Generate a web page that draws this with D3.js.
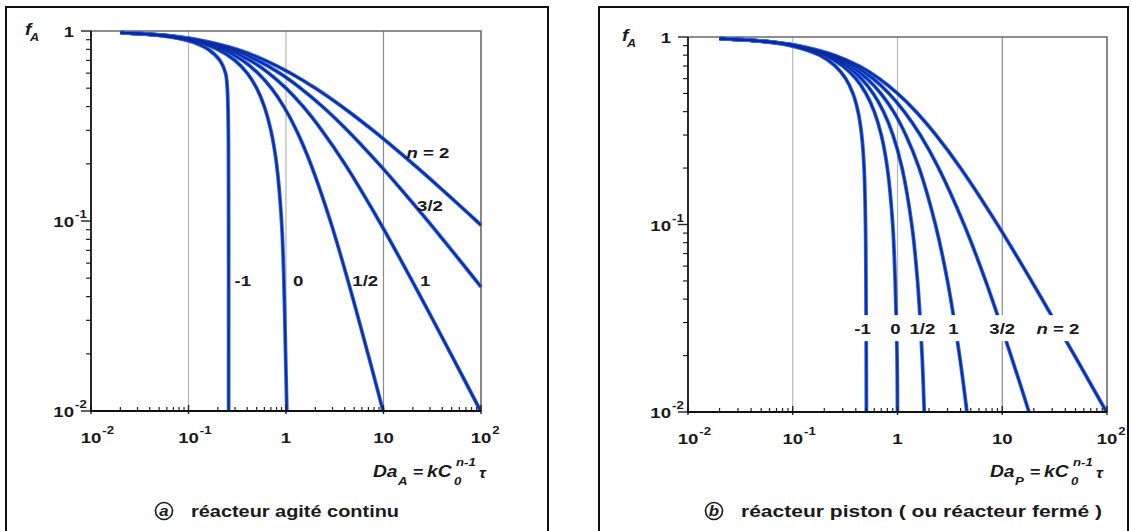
<!DOCTYPE html>
<html>
<head>
<meta charset="utf-8">
<script src="https://cdn.jsdelivr.net/npm/d3@7/dist/d3.min.js"></script>
<style>
body { margin: 0; background: #fff; }
svg { display: block; font-family: "Liberation Sans", Arial, sans-serif; font-weight: bold; }
</style>
</head>
<body>
<div id="chart"></div>
<script>
// points are [Da, fA]
var orderLabels = ["-1", "0", "1/2", "1", "3/2", "n = 2"];
var xTickValues = [0.01, 0.1, 1, 10, 100];
var xTickLabels = [["10", "-2"], ["10", "-1"], ["1", ""], ["10", ""], ["10", "2"]];
var yTickValues = [1, 0.1, 0.01];
var yTickLabels = [["1", ""], ["10", "-1"], ["10", "-2"]];

// (a) continuous stirred reactor
var cstrNm1 = [[0.02,0.98],[0.0475,0.95],[0.09,0.9],[0.1275,0.85],[0.16,0.8],[0.21,0.7],[0.24,0.6],[0.25,0.5],[0.254,0.4],[0.257,0.25],[0.258,0.1],[0.258,0.01]];
var cstrN0 = [[0.02,0.98],[0.05,0.95],[0.1,0.9],[0.2,0.8],[0.3,0.7],[0.4,0.6],[0.5,0.5],[0.6,0.4],[0.7,0.3],[0.8,0.2],[0.9,0.1],[0.95,0.05],[0.99,0.02],[1.02,0.01]];
var cstrNhalf = [[0.0202,0.98],[0.0513,0.95],[0.105,0.9],[0.224,0.8],[0.359,0.7],[0.516,0.6],[0.707,0.5],[0.949,0.4],[1.28,0.3],[1.79,0.2],[2.85,0.1],[4.25,0.05],[6.93,0.02],[9.9,0.01]];
var cstrN1 = [[0.0204,0.98],[0.0526,0.95],[0.111,0.9],[0.25,0.8],[0.429,0.7],[0.667,0.6],[1,0.5],[1.5,0.4],[2.33,0.3],[4,0.2],[9,0.1],[19,0.05],[49,0.02],[99,0.01]];
var cstrN3h = [[0.0206,0.98],[0.054,0.95],[0.117,0.9],[0.28,0.8],[0.512,0.7],[0.861,0.6],[1.41,0.5],[2.37,0.4],[4.26,0.3],[8.94,0.2],[14.6,0.15],[28.5,0.1],[50.2,0.07],[85,0.05],[100,0.045]];
var cstrN2 = [[0.0208,0.98],[0.0554,0.95],[0.123,0.9],[0.313,0.8],[0.612,0.7],[1.11,0.6],[2,0.5],[3.75,0.4],[7.78,0.3],[20,0.2],[37.8,0.15],[90,0.1],[100,0.095]];
var cstrLabelAt = [[0.36,0.049],[1.33,0.049],[6.5,0.049],[26.7,0.049],[30,0.122],[28.5,0.232]];

// (b) plug flow reactor
var pfrNm1 = [[0.0198,0.98],[0.0488,0.95],[0.095,0.9],[0.18,0.8],[0.255,0.7],[0.32,0.6],[0.375,0.5],[0.42,0.4],[0.455,0.3],[0.48,0.2],[0.495,0.1],[0.5,0.05],[0.505,0.01]];
var pfrN0 = [[0.02,0.98],[0.05,0.95],[0.1,0.9],[0.2,0.8],[0.3,0.7],[0.4,0.6],[0.5,0.5],[0.6,0.4],[0.7,0.3],[0.8,0.2],[0.9,0.1],[0.95,0.05],[0.99,0.02],[1.0,0.01]];
var pfrNhalf = [[0.0201,0.98],[0.0506,0.95],[0.103,0.9],[0.211,0.8],[0.327,0.7],[0.451,0.6],[0.586,0.5],[0.735,0.4],[0.905,0.3],[1.106,0.2],[1.368,0.1],[1.553,0.05],[1.717,0.02],[1.8,0.01]];
var pfrN1 = [[0.0202,0.98],[0.0513,0.95],[0.105,0.9],[0.223,0.8],[0.357,0.7],[0.511,0.6],[0.693,0.5],[0.916,0.4],[1.2,0.3],[1.61,0.2],[2.3,0.1],[3.0,0.05],[3.91,0.02],[4.6,0.01]];
var pfrN3h = [[0.0203,0.98],[0.052,0.95],[0.108,0.9],[0.236,0.8],[0.39,0.7],[0.582,0.6],[0.828,0.5],[1.16,0.4],[1.65,0.3],[2.47,0.2],[4.32,0.1],[6.94,0.05],[12.1,0.02],[18,0.01]];
var pfrN2 = [[0.0204,0.98],[0.0526,0.95],[0.111,0.9],[0.25,0.8],[0.429,0.7],[0.667,0.6],[1,0.5],[1.5,0.4],[2.33,0.3],[4,0.2],[9,0.1],[19,0.05],[49,0.02],[99,0.01]];
var pfrLabelAt = [[0.464,0.028],[0.957,0.028],[1.73,0.028],[3.41,0.028],[10,0.028],[34,0.028]];

var ink = "#1a1a1a";
var stretch = 1.2;   // the scan is a bit wider than tall, text looks stretched

var svg = d3.select("#chart").append("svg")
    .attr("width", 1131)
    .attr("height", 531);

// text helper, stretched horizontally around its anchor
function put(g, x, y, str, size, anchor, italic) {
    return g.append("text")
        .attr("transform", "translate(" + x + "," + y + ") scale(" + stretch + ",1)")
        .attr("font-size", size)
        .attr("text-anchor", anchor || "start")
        .attr("font-style", italic ? "italic" : null)
        .attr("fill", ink)
        .text(str);
}

LogPanel = function(_svg, _opts) {
    vis = this;
    this.svg = _svg;
    this.opts = _opts;
    this.frame = _opts.frame;
    this.margin = _opts.plot;
    this.initVis();
};

LogPanel.prototype.initVis = function() {
    vis = this;
    var m = vis.margin;

    vis.x = d3.scaleLog().domain([0.01, 100]).range([m.left, m.right]);
    vis.y = d3.scaleLog().domain([0.01, 1]).range([m.bottom, m.top]);

    vis.g = vis.svg.append("g");

    vis.g.append("rect")
        .attr("x", vis.frame[0]).attr("y", vis.frame[1])
        .attr("width", vis.frame[2]).attr("height", vis.frame[3])
        .attr("fill", "none").attr("stroke", "#111").attr("stroke-width", 2);

    vis.drawGrid();
    vis.drawCurves();
    vis.drawAxes();
    vis.drawTitles();
    vis.drawLabels();
};

LogPanel.prototype.drawGrid = function() {
    vis = this;
    var m = vis.margin;

    vis.g.selectAll(".vgrid")
        .data([0.1, 1, 10])
        .enter().append("line")
        .attr("class", "vgrid")
        .attr("x1", function(d) { return vis.x(d); })
        .attr("x2", function(d) { return vis.x(d); })
        .attr("y1", m.top).attr("y2", m.bottom)
        .attr("stroke", function(d) { return d == 10 ? "#8a8a8a" : "#b5b5b5"; })
        .attr("stroke-width", 1.2);

    // top and right edges of the plot box
    vis.g.append("path")
        .attr("d", "M" + m.left + "," + m.top + "H" + m.right + "V" + m.bottom)
        .attr("fill", "none").attr("stroke", "#6a6a6a").attr("stroke-width", 1.6);
};

LogPanel.prototype.drawCurves = function() {
    vis = this;

    var line = d3.line()
        .x(function(d) { return vis.x(d[0]); })
        .y(function(d) { return vis.y(d[1]); })
        .curve(d3.curveCatmullRom.alpha(0.5));

    var curves = vis.g.append("g");
    curves.selectAll(".halo")
        .data(vis.opts.curves)
        .enter().append("path")
        .attr("class", "halo")
        .attr("d", line)
        .attr("fill", "none").attr("stroke", "#2c64ea").attr("stroke-width", 3.8)
        .attr("stroke-linejoin", "round");
    curves.selectAll(".core")
        .data(vis.opts.curves)
        .enter().append("path")
        .attr("class", "core")
        .attr("d", line)
        .attr("fill", "none").attr("stroke", "#0c2b9e").attr("stroke-width", 1.9)
        .attr("stroke-linejoin", "round");
};

LogPanel.prototype.drawAxes = function() {
    vis = this;
    var m = vis.margin;

    var minorX = vis.x.ticks().filter(function(d) { return xTickValues.indexOf(d) < 0; });
    var minorY = vis.y.ticks().filter(function(d) { return yTickValues.indexOf(d) < 0; });

    vis.g.selectAll(".xminor")
        .data(minorX)
        .enter().append("line")
        .attr("x1", function(d) { return vis.x(d); })
        .attr("x2", function(d) { return vis.x(d); })
        .attr("y1", m.bottom).attr("y2", m.bottom - 4)
        .attr("stroke", "#222").attr("stroke-width", 1.2);
    vis.g.selectAll(".xmajor")
        .data(xTickValues)
        .enter().append("line")
        .attr("x1", function(d) { return vis.x(d); })
        .attr("x2", function(d) { return vis.x(d); })
        .attr("y1", m.bottom + 3).attr("y2", m.bottom - 6)
        .attr("stroke", "#222").attr("stroke-width", 1.4);

    vis.g.selectAll(".yminor")
        .data(minorY)
        .enter().append("line")
        .attr("x1", m.left).attr("x2", m.left - 5)
        .attr("y1", function(d) { return vis.y(d); })
        .attr("y2", function(d) { return vis.y(d); })
        .attr("stroke", "#222").attr("stroke-width", 1.2);
    vis.g.selectAll(".ymajor")
        .data(yTickValues)
        .enter().append("line")
        .attr("x1", m.left).attr("x2", m.left - 10)
        .attr("y1", function(d) { return vis.y(d); })
        .attr("y2", function(d) { return vis.y(d); })
        .attr("stroke", "#222").attr("stroke-width", 1.4);

    // axis lines
    vis.g.append("path")
        .attr("d", "M" + m.left + "," + m.top + "V" + m.bottom + "H" + m.right)
        .attr("fill", "none").attr("stroke", "#111").attr("stroke-width", 1.8);

    // tick labels, exponent drawn as its own small text
    xTickValues.forEach(function(v, i) {
        var lab = xTickLabels[i];
        var base = put(vis.g, vis.x(v), m.bottom + 32, lab[0], 15.5, "middle");
        if (lab[1]) {
            var w = base.node().getComputedTextLength() * stretch;
            put(vis.g, vis.x(v) + w / 2 + 1, m.bottom + 23, lab[1], 11);
        }
    });

    yTickValues.forEach(function(v, i) {
        var lab = yTickLabels[i];
        put(vis.g, m.left - 17, vis.y(v) + 6, lab[0], 15.5, "end");
        if (lab[1]) put(vis.g, m.left - 16, vis.y(v) - 3, lab[1], 11);
    });
};

LogPanel.prototype.drawTitles = function() {
    vis = this;
    var m = vis.margin;

    // f_A
    put(vis.g, m.left - 66, m.top + 4, "f", 16, "start", true);
    put(vis.g, m.left - 61, m.top + 10, "A", 10.5, "start", true);

    // Da = k C0^(n-1) tau
    var dx = vis.opts.daX, dy = 477;
    put(vis.g, dx, dy, "Da", 16, "start", true);
    put(vis.g, dx + 25, dy + 8, vis.opts.sub, 11, "start", true);
    put(vis.g, dx + 40, dy, "=", 15, "start");
    put(vis.g, dx + 54, dy, "kC", 16, "start", true);
    put(vis.g, dx + 81, dy + 8, "0", 11, "start", true);
    put(vis.g, dx + 83, dy - 11, "n-1", 11, "start", true);
    put(vis.g, dx + 106, dy + 1, "\u03c4", 14, "start", true);

    // caption with circled letter
    var cx = vis.opts.captionX, cy = 511;
    vis.g.append("circle")
        .attr("cx", cx).attr("cy", cy).attr("r", 8.5)
        .attr("fill", "none").attr("stroke", ink).attr("stroke-width", 1.6);
    put(vis.g, cx, cy + 5, vis.opts.letter, 14, "middle", true);
    vis.g.append("text")
        .attr("x", cx + 27).attr("y", cy + 6)
        .attr("font-size", 17)
        .attr("textLength", vis.opts.captionW)
        .attr("lengthAdjust", "spacingAndGlyphs")
        .attr("fill", ink)
        .text(vis.opts.caption);
};

LogPanel.prototype.drawLabels = function() {
    vis = this;

    var labels = vis.g.append("g");
    vis.opts.labelAt.forEach(function(p, i) {
        var px = vis.x(p[0]), py = vis.y(p[1]) + 6;
        var txt = put(labels, px, py, "", 15.5, "middle");
        if (orderLabels[i].indexOf("n") == 0) {
            txt.append("tspan").attr("font-style", "italic").text("n");
            txt.append("tspan").text(" = 2");
        } else {
            txt.text(orderLabels[i]);
        }
        if (vis.opts.labelBoxes) {
            var w = txt.node().getComputedTextLength() * stretch;
            labels.insert("rect", "text")
                .attr("x", px - w / 2 - 1).attr("y", py - 19)
                .attr("width", w + 2).attr("height", 26)
                .attr("fill", "#fff");
        }
    });
};

new LogPanel(svg, {
    frame: [6, 7, 542, 540],
    plot: { left: 91, top: 31, right: 481, bottom: 411 },
    curves: [cstrNm1, cstrN0, cstrNhalf, cstrN1, cstrN3h, cstrN2],
    labelAt: cstrLabelAt,
    labelBoxes: false,
    sub: "A",
    daX: 373,
    letter: "a",
    captionX: 164,
    captionW: 208,
    caption: "réacteur agité continu"
});

new LogPanel(svg, {
    frame: [599, 7, 529, 540],
    plot: { left: 688, top: 37, right: 1107, bottom: 412 },
    curves: [pfrNm1, pfrN0, pfrNhalf, pfrN1, pfrN3h, pfrN2],
    labelAt: pfrLabelAt,
    labelBoxes: true,
    sub: "P",
    daX: 990,
    letter: "b",
    captionX: 714,
    captionW: 361,
    caption: "réacteur piston ( ou réacteur fermé )"
});
</script>
</body>
</html>
